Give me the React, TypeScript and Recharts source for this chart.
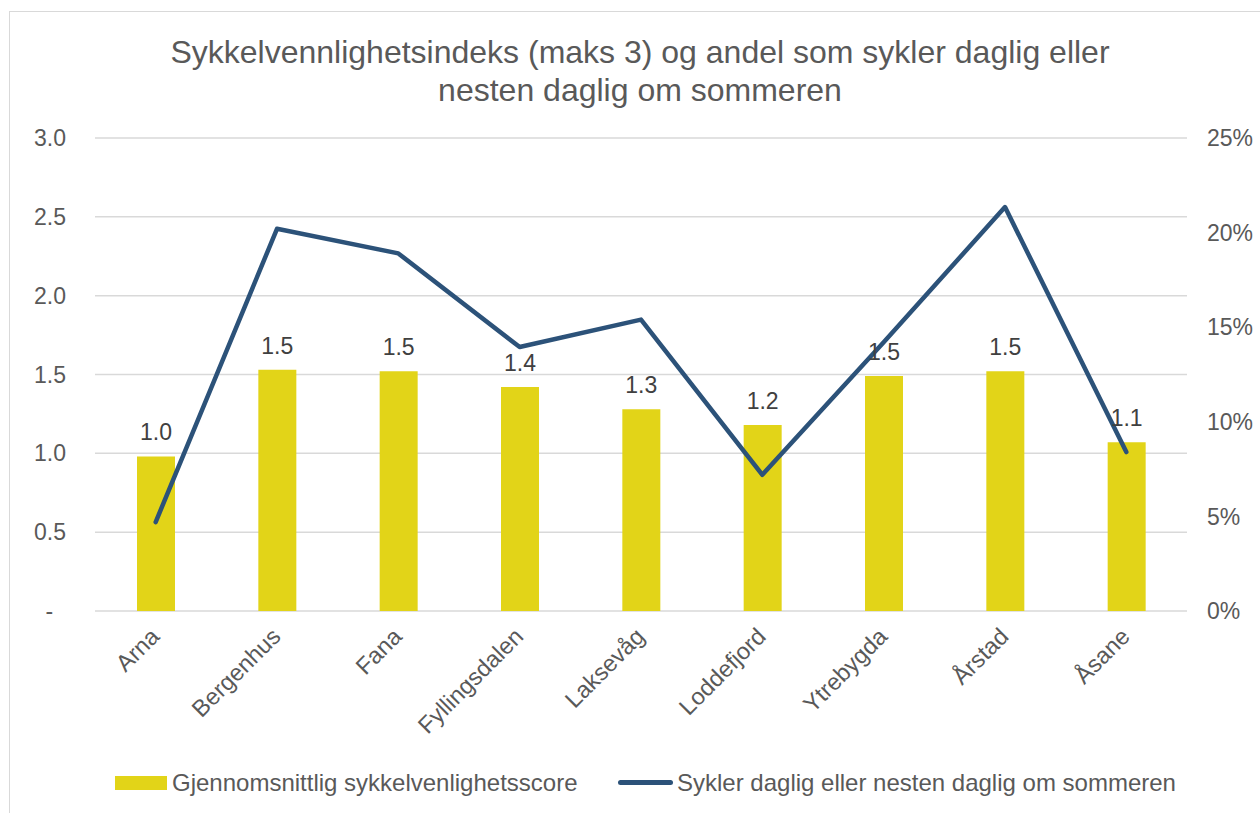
import { ComposedChart, Bar, Line, XAxis, YAxis, CartesianGrid, LabelList, Legend } from 'recharts';

const districts = ['Arna', 'Bergenhus', 'Fana', 'Fyllingsdalen', 'Laksevåg', 'Loddefjord', 'Ytrebygda', 'Årstad', 'Åsane'];
const scores = [0.98, 1.53, 1.52, 1.42, 1.28, 1.18, 1.49, 1.52, 1.07];
const dailyShare = [4.7, 20.2, 18.9, 13.95, 15.4, 7.2, 14.2, 21.35, 8.4];
const leftTicks = [0, 0.5, 1, 1.5, 2, 2.5, 3];
const rightTicks = [0, 5, 10, 15, 20, 25];

const BAR_NAME = 'Gjennomsnittlig sykkelvenlighetsscore';
const LINE_NAME = 'Sykler daglig eller nesten daglig om sommeren';

const COLORS = {
  bar: '#E2D418',
  line: '#2C5279',
  grid: '#D9D9D9',
  text: '#595959',
  label: '#404040',
};

const FONT = '"Liberation Sans", Arial, sans-serif';

const chartData = districts.map((name, i) => ({
  name,
  score: scores[i],
  share: dailyShare[i],
}));

function XTick({ x, y, payload }: any) {
  const ax = x + 5;
  const ay = y + 19;
  return (
    <text
      x={ax}
      y={ay}
      transform={`rotate(-45, ${ax}, ${ay})`}
      textAnchor="end"
      fill={COLORS.text}
      fontSize={23.5}
      fontFamily={FONT}
    >
      {payload.value}
    </text>
  );
}

function LegendContent() {
  return (
    <div style={{ position: 'relative', height: 50, fontFamily: FONT, fontSize: 24, color: COLORS.text }}>
      <div style={{ position: 'absolute', left: 115, top: 18, width: 52, height: 14, background: COLORS.bar }} />
      <div style={{ position: 'absolute', left: 172, top: 11, lineHeight: '28px', whiteSpace: 'nowrap' }}>{BAR_NAME}</div>
      <div style={{ position: 'absolute', left: 618, top: 22, width: 55, height: 5, borderRadius: 3, background: COLORS.line }} />
      <div style={{ position: 'absolute', left: 677, top: 11, lineHeight: '28px', whiteSpace: 'nowrap' }}>{LINE_NAME}</div>
    </div>
  );
}

export default function App() {
  return (
    <div style={{ position: 'fixed', left: 0, top: 0, width: 1260, height: 813, overflow: 'hidden', background: '#fff' }}>
      <div style={{ position: 'absolute', left: 9, top: 11, width: 1400, height: 1000, border: `1px solid ${COLORS.grid}` }} />
      <div style={{ position: 'absolute', left: 0, top: 33, width: 1280, textAlign: 'center', fontFamily: FONT, fontSize: 32, lineHeight: '38px', color: COLORS.text }}>
        <div>Sykkelvennlighetsindeks (maks 3) og andel som sykler daglig eller</div>
        <div>nesten daglig om sommeren</div>
      </div>
      <div style={{ position: 'absolute', left: 0, top: 0 }}>
        <ComposedChart
          width={1260}
          height={813}
          data={chartData}
          margin={{ top: 138, right: 10, left: 10, bottom: 0 }}
          barSize={38}
        >
          <CartesianGrid yAxisId="left" vertical={false} stroke={COLORS.grid} strokeWidth={1.5} />
          <XAxis
            dataKey="name"
            height={152}
            axisLine={false}
            tickLine={false}
            interval={0}
            tick={<XTick />}
          />
          <YAxis
            yAxisId="left"
            width={85}
            domain={[0, 3]}
            ticks={leftTicks}
            axisLine={false}
            tickLine={false}
            tickMargin={23}
            tick={{ fill: COLORS.text, fontSize: 23, fontFamily: FONT }}
            tickFormatter={(v: number) => (v === 0 ? '-\u00a0\u00a0' : v.toFixed(1))}
          />
          <YAxis
            yAxisId="right"
            orientation="right"
            width={63}
            domain={[0, 25]}
            ticks={rightTicks}
            axisLine={false}
            tickLine={false}
            tickMargin={14}
            tick={{ fill: COLORS.text, fontSize: 23, fontFamily: FONT, textAnchor: 'start' }}
            tickFormatter={(v: number) => `${v}%`}
          />
          <Legend verticalAlign="bottom" wrapperStyle={{ left: 0, width: 1260, bottom: 5 }} content={<LegendContent />} />
          <Bar yAxisId="left" dataKey="score" name={BAR_NAME} fill={COLORS.bar} isAnimationActive={false}>
            <LabelList
              dataKey="score"
              position="top"
              offset={16}
              fill={COLORS.label}
              fontSize={23}
              fontFamily={FONT}
              formatter={(v: any) => Number(v).toFixed(1)}
            />
          </Bar>
          <Line
            yAxisId="right"
            type="linear"
            dataKey="share"
            name={LINE_NAME}
            stroke={COLORS.line}
            strokeWidth={4.5}
            strokeLinecap="round"
            strokeLinejoin="round"
            dot={false}
            activeDot={false}
            isAnimationActive={false}
          />
        </ComposedChart>
      </div>
    </div>
  );
}
